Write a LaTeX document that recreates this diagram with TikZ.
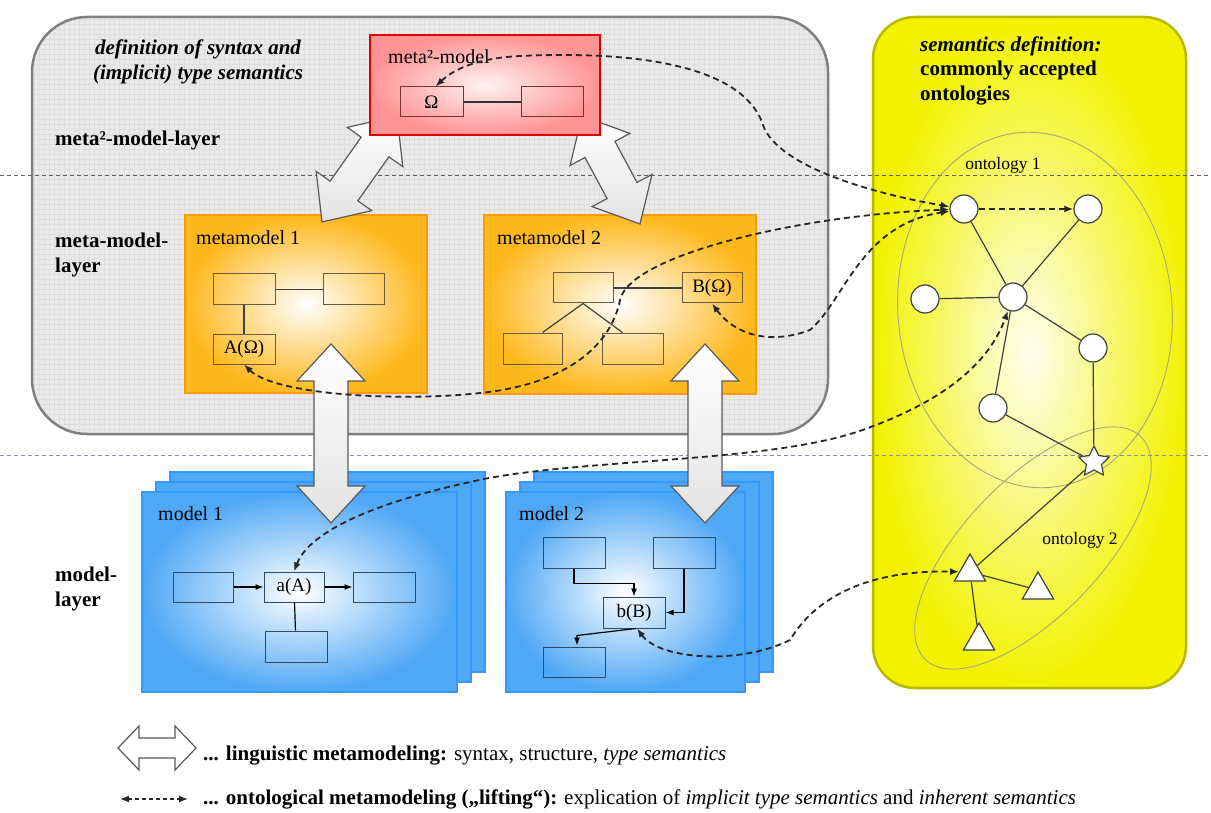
\documentclass[tikz,border=0pt]{standalone}
\usepackage{fontspec}
\setmainfont{Liberation Serif}
\usetikzlibrary{calc,shapes.geometric,arrows.meta}

\definecolor{panelgray}{HTML}{EAEAEA}
\definecolor{gridgray}{HTML}{DEDEDE}
\definecolor{panelborder}{HTML}{7F7F7F}
\definecolor{ylw}{HTML}{F2F200}
\definecolor{ylwborder}{HTML}{B8B800}
\definecolor{orng}{HTML}{FFB81C}
\definecolor{orngborder}{HTML}{FF9A00}
\definecolor{redborder}{HTML}{E00000}
\definecolor{pinkc}{HTML}{FF9494}
\definecolor{blu}{HTML}{4FA8F5}
\definecolor{bluborder}{HTML}{3399FF}
\definecolor{ontline}{HTML}{A8A878}
\definecolor{inkgray}{HTML}{404040}
\definecolor{brownish}{HTML}{6B5A40}
\definecolor{slate}{HTML}{2F4A66}
\definecolor{darkred}{HTML}{7A3030}
\definecolor{layerlow}{HTML}{8A8AA0}

% fat double arrow between two named coordinates:
% #1 from, #2 to, #3 head length, #4 head half width, #5 shaft half width, #6 style
\newcommand{\mkfatarrow}[6]{%
  \path[#6] let \p1=($(#2)-(#1)$), \n1={atan2(\y1,\x1)} in
    (#1) -- ($(#1)+(\n1:#3)+(\n1+90:#4)$) -- ($(#1)+(\n1:#3)+(\n1+90:#5)$)
    -- ($(#2)+(\n1+180:#3)+(\n1+90:#5)$) -- ($(#2)+(\n1+180:#3)+(\n1+90:#4)$)
    -- (#2) -- ($(#2)+(\n1+180:#3)+(\n1-90:#4)$) -- ($(#2)+(\n1+180:#3)+(\n1-90:#5)$)
    -- ($(#1)+(\n1:#3)+(\n1-90:#5)$) -- ($(#1)+(\n1:#3)+(\n1-90:#4)$) -- cycle;}

\tikzset{
  txt/.style={font=\fontsize{20}{25}\selectfont, inner sep=0pt},
  boldtxt/.style={font=\fontsize{21}{25}\selectfont\bfseries, inner sep=0pt, align=left},
  smalltxt/.style={font=\fontsize{17.5}{20}\selectfont, inner sep=0pt},
  legtxt/.style={font=\fontsize{21}{24}\selectfont, inner sep=0pt},
  metabox/.style={draw=orngborder, line width=2.5pt, shading=radial, inner color=white, outer color=orng, inner sep=0pt},
  redbox/.style={draw=redborder, line width=2.5pt, shading=radial, inner color=pinkc!12, outer color=pinkc, inner sep=0pt},
  modelbox/.style={draw=bluborder, line width=2.5pt, shading=radial, inner color=white, outer color=blu, inner sep=0pt},
  stackbox/.style={draw=bluborder, line width=2pt, fill=blu, inner sep=0pt},
  mmin/.style={draw=brownish, line width=1pt, minimum width=62pt, minimum height=31pt, inner sep=0pt, font=\fontsize{19}{22}\selectfont},
  mdin/.style={draw=slate, line width=1pt, minimum width=62pt, minimum height=31pt, inner sep=0pt, font=\fontsize{19}{22}\selectfont},
  rdin/.style={draw=darkred, line width=1pt, minimum width=63pt, minimum height=30pt, inner sep=0pt, font=\fontsize{19}{22}\selectfont},
  solidarr/.style={-{Latex[length=8pt,width=6pt]}, line width=1.2pt, draw=black},
  plainline/.style={line width=1.2pt, draw=inkgray},
  fatarr/.style={draw=gray!70!black, line width=1.2pt, top color=white, bottom color=gray!22, line join=miter},
  legfat/.style={draw=gray!70!black, line width=1.2pt, fill=white, line join=miter},
  ont/.style={draw=black!85, line width=1.8pt, dash pattern=on 6pt off 4pt, {Latex[length=9pt,width=7pt]}-{Latex[length=9pt,width=7pt]}},
  onto/.style={draw=black!85, line width=1.8pt, dash pattern=on 6pt off 4pt, -{Latex[length=9pt,width=7pt]}},
  onode/.style={circle, draw=inkgray, fill=white, line width=1.2pt, minimum size=28pt, inner sep=0pt},
  trinode/.style={regular polygon, regular polygon sides=3, draw=inkgray, fill=white, line width=1.2pt, minimum size=36pt, inner sep=0pt},
  starnode/.style={star, star points=5, star point ratio=2, draw=inkgray, fill=white, line width=1.2pt, minimum size=32pt, inner sep=0pt},
  oedge/.style={draw=inkgray, line width=1.2pt},
  ontell/.style={draw=ontline, line width=0.9pt},
  layerline/.style={dash pattern=on 4pt off 3pt, line width=1pt}
}

\begin{document}
\begin{tikzpicture}[x=1pt,y=-1pt]
\useasboundingbox (0,0) rectangle (1211,813);

% ---------- syntax panel (gray) ----------
\fill[panelgray, rounded corners=55pt] (32,17) rectangle (828,434);
\begin{scope}
  \clip[rounded corners=55pt] (32,17) rectangle (828,434);
  \foreach \gx in {34,39,...,828} \draw[gridgray, line width=0.3pt] (\gx,17) -- (\gx,434);
  \foreach \gy in {19,24,...,434} \draw[gridgray, line width=0.3pt] (32,\gy) -- (828,\gy);
\end{scope}
\draw[panelborder, line width=2.5pt, rounded corners=55pt] (32,17) rectangle (828,434);

% ---------- semantics panel (yellow) ----------
\node[draw=ylwborder, line width=2.5pt, rounded corners=42pt, shading=radial, inner color=ylw!6, outer color=ylw,
      minimum width=313pt, minimum height=671pt, inner sep=0pt] (sempanel) at (1029.5,352.5) {};

% ---------- layer separators ----------
\coordinate (l1a) at (0,176);  \coordinate (l1b) at (1211,176);
\coordinate (l2a) at (0,455);  \coordinate (l2b) at (1211,455);
\draw[layerline, gray!75!black] (l1a) -- (l1b);
\draw[layerline, layerlow] (l2a) -- (l2b);

% ---------- texts of the left panel ----------
\node[txt, font=\fontsize{21}{25}\selectfont\bfseries\itshape, align=center] (deftxt) at (198,61.5)
  {definition of syntax and\\(implicit) type semantics};
\node[boldtxt, anchor=west] (lay1) at (55,140) {meta²-model-layer};
\node[boldtxt, anchor=west] (lay2) at (55,255) {meta-model-\\layer};
\node[boldtxt, anchor=west] (lay3) at (55,589) {model-\\layer};

% ---------- metamodel 1 ----------
\node[metabox, minimum width=242pt, minimum height=178pt] (mm1) at (306,304) {};
\node[txt, anchor=west] (mm1lab) at (196,238) {metamodel 1};
\node[mmin] (m1a) at (244,289.5) {};
\node[mmin, minimum width=61pt] (m1b) at (353.5,289.5) {};
\node[mmin, minimum height=30pt] (m1c) at (244,349) {A(Ω)};
\draw[plainline] (m1a) -- (m1b);
\draw[plainline] (m1a) -- (m1c);

% ---------- metamodel 2 ----------
\node[metabox, minimum width=272pt, minimum height=179pt] (mm2) at (620,304.5) {};
\node[txt, anchor=west] (mm2lab) at (497,238) {metamodel 2};
\node[mmin, minimum width=60pt, minimum height=30pt] (m2a) at (583,288) {};
\node[mmin, minimum width=60pt, minimum height=30pt] (m2b) at (712,288) {B(Ω)};
\node[mmin, minimum width=59pt] (m2c) at (532.5,348.5) {};
\node[mmin, minimum width=61pt] (m2d) at (632.5,348.5) {};
\draw[plainline] (m2a) -- (m2b);
\draw[plainline] (m2a.south) -- ([xshift=10pt]m2c.north);
\draw[plainline] (m2a.south) -- ([xshift=-10pt]m2d.north);

% ---------- model 1 (stack) ----------
\node[stackbox, minimum width=315pt, minimum height=200pt] (md1s2) at (327.5,572) {};
\node[stackbox, minimum width=315pt, minimum height=200pt] (md1s1) at (313.5,582) {};
\node[modelbox, minimum width=315pt, minimum height=200pt] (md1) at (299.5,592) {};
\node[txt, anchor=west] (md1lab) at (158,514) {model 1};
\node[mdin, minimum width=60pt, minimum height=30pt] (a1) at (203,587) {};
\node[mdin, minimum width=60pt, minimum height=30pt] (aA) at (294,587) {a(A)};
\node[mdin, minimum height=30pt] (a3) at (384,587) {};
\node[mdin] (a4) at (296,646.5) {};
\draw[solidarr] (a1) -- (aA);
\draw[solidarr] (aA) -- (a3);
\draw[plainline, draw=black] (aA) -- (a4);

% ---------- model 2 (stack) ----------
\node[stackbox, minimum width=239pt, minimum height=200pt] (md2s2) at (653.5,572) {};
\node[stackbox, minimum width=239pt, minimum height=200pt] (md2s1) at (639.5,582) {};
\node[modelbox, minimum width=239pt, minimum height=200pt] (md2) at (625.5,592) {};
\node[txt, anchor=west] (md2lab) at (519,514) {model 2};
\node[mdin] (b1) at (574,552.5) {};
\node[mdin] (b2) at (684,552.5) {};
\node[mdin] (bB) at (634,612.5) {b(B)};
\node[mdin, minimum height=30pt] (b4) at (574,662) {};
\draw[solidarr] (b1.south) -- ++(0,15) -| (bB.north);
\draw[solidarr] (b2.south) |- (bB.east);
\draw[solidarr] ([xshift=2pt]bB.south) -- ([xshift=3pt,yshift=11pt]b4.north) -- ([xshift=3pt,yshift=1pt]b4.north);

% ---------- ontologies ----------
\coordinate (o1c) at (1035,310);
\coordinate (o2c) at (1033,548);
\draw[ontell, rotate around={5:(o1c)}] (o1c) ellipse [x radius=137, y radius=178];
\draw[ontell, rotate around={46:(o2c)}] (o2c) ellipse [x radius=155, y radius=68];
\node[smalltxt] (ont1lab) at (1003,165) {ontology 1};
\node[smalltxt] (ont2lab) at (1080,540) {ontology 2};
\node[txt, font=\fontsize{21}{24.5}\selectfont, anchor=west, align=left] (semtxt) at (920,70.5)
  {{\bfseries\itshape semantics definition:}\\\textbf{commonly accepted}\\\textbf{ontologies}};

\node[onode] (c1) at (964,209) {};
\node[onode] (c2) at (1088,209) {};
\node[onode] (c3) at (925,299) {};
\node[onode] (c4) at (1013,297) {};
\node[onode] (c5) at (1093,348) {};
\node[onode] (c6) at (993,408) {};
\node[starnode] (st) at (1094,462) {};
\node[trinode] (t1) at (970,572) {};
\node[trinode] (t2) at (1038,590) {};
\node[trinode] (t3) at (979,641) {};
\draw[oedge] (c1) -- (c4);
\draw[oedge] (c2) -- (c4);
\draw[oedge] (c3) -- (c4);
\draw[oedge] (c4) -- (c5);
\draw[oedge] (c4) -- (c6);
\draw[oedge] (c5) -- (st);
\draw[oedge] (c6) -- (st);
\draw[oedge] (st) -- (t1);
\draw[oedge] (t1) -- (t2);
\draw[oedge] (t1) -- (t3);

% ---------- linguistic (fat) arrows ----------
\coordinate (faA1) at (397,116); \coordinate (faA2) at (322,222);
\coordinate (faB1) at (582,116); \coordinate (faB2) at (640,224);
\coordinate (faC1) at (331,344); \coordinate (faC2) at (331,523);
\coordinate (faD1) at (705,344); \coordinate (faD2) at (705,523);
\mkfatarrow{faA1}{faA2}{38pt}{34pt}{17pt}{fatarr}
\mkfatarrow{faB1}{faB2}{38pt}{34pt}{17pt}{fatarr}
\mkfatarrow{faC1}{faC2}{37pt}{34pt}{17pt}{fatarr}
\mkfatarrow{faD1}{faD2}{37pt}{34pt}{17pt}{fatarr}

% ---------- meta^2-model ----------
\node[redbox, minimum width=230pt, minimum height=100pt] (m2m) at (485,85) {};
\node[txt, anchor=west] (m2mlab) at (388,57) {meta²-model};
\node[rdin] (om) at (431.5,102) {Ω};
\node[rdin, minimum width=62pt] (om2) at (552,102) {};
\draw[plainline, draw=black!80] (om) -- (om2);

% ---------- ontological (dashed) arrows ----------
\draw[ont] ([xshift=4pt]om.north) .. controls (455,68) and (480,58) .. (520,56)
      .. controls (650,50) and (745,70) .. (763,125)
      .. controls (778,168) and (880,195) .. (c1);
\draw[onto] (c1) -- (c2);
\draw[ont] (m1c.south) .. controls (275,395) and (400,402) .. (480,393)
      .. controls (560,385) and (610,350) .. (620,300)
      .. controls (630,255) and (800,215) .. (c1);
\draw[ont] (m2b.south) .. controls (735,335) and (770,345) .. (810,330)
      .. controls (845,300) and (860,225) .. (c1);
\draw[ont] (aA.north) .. controls (310,530) and (380,500) .. (489,478)
      .. controls (600,458) and (780,462) .. (868,428)
      .. controls (950,398) and (990,360) .. (c4);
\draw[ont] ([xshift=3pt]bB.south) .. controls (660,660) and (740,665) .. (790,640)
      .. controls (820,590) and (880,570) .. (t1);

% ---------- legend ----------
\coordinate (lgA) at (118,748); \coordinate (lgB) at (196,748);
\mkfatarrow{lgA}{lgB}{21pt}{22pt}{10pt}{legfat}
\node[legtxt, anchor=west] (leg1) at (203,756)
  {\textbf{... linguistic metamodeling:} syntax, structure, \textit{type semantics}};
\coordinate (lega) at (120,799); \coordinate (legb) at (188,799);
\draw[ont, line width=1.3pt, dash pattern=on 4pt off 3pt] (lega) -- (legb);
\node[legtxt, anchor=west] (leg2) at (203,799)
  {\textbf{... ontological metamodeling („lifting“):} explication of \textit{implicit type semantics} and \textit{inherent semantics}};
\end{tikzpicture}
\end{document}
